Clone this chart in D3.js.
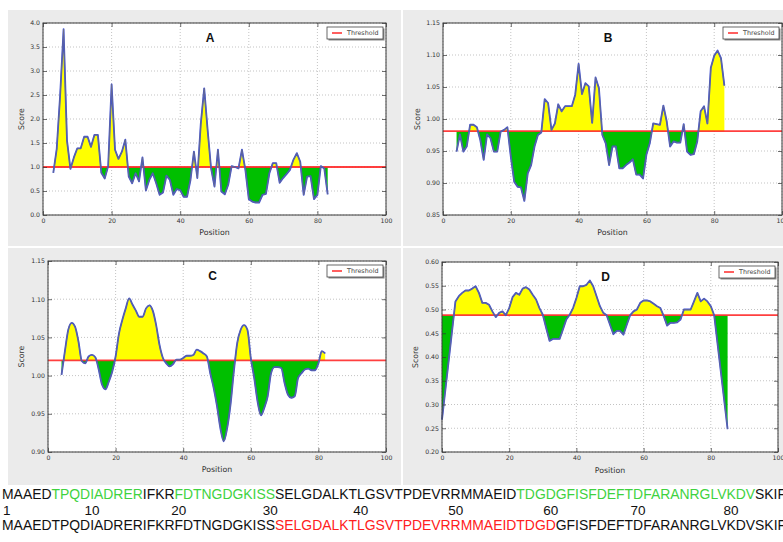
<!DOCTYPE html>
<html><head><meta charset="utf-8">
<script src="https://cdn.jsdelivr.net/npm/d3@7"></script>
<style>
body{margin:0;background:#fff;}
svg{display:block;}
</style></head>
<body>
<svg id="chart" width="783" height="542"></svg>
<script>
// ---------- DATA ----------
const xTickLabels = [0, 20, 40, 60, 80, 100];
const yTicksA = [0.0, 0.5, 1.0, 1.5, 2.0, 2.5, 3.0, 3.5, 4.0];
const yTicksB = [0.85, 0.90, 0.95, 1.00, 1.05, 1.10, 1.15];
const yTicksC = [0.90, 0.95, 1.00, 1.05, 1.10, 1.15];
const yTicksD = [0.20, 0.25, 0.30, 0.35, 0.40, 0.45, 0.50, 0.55, 0.60];

const thresholds = {A: 1.0, B: 0.981, C: 1.02, D: 0.488};

const posA = d3.range(3, 84);
const scoreA = [0.88,1.38,2.5,3.87,1.55,0.96,1.2,1.39,1.39,1.63,
  1.63,1.42,1.67,1.67,0.88,0.76,1.02,2.72,1.36,1.17,
  1.32,1.57,0.8,0.66,0.87,0.70,1.2,0.51,0.73,0.87,
  0.66,0.42,0.47,0.82,0.73,0.42,0.54,0.52,0.38,0.38,
  0.73,1.32,0.77,1.9,2.64,1.77,0.97,0.59,1.36,0.49,
  0.43,0.63,1.02,1.0,0.97,1.36,0.94,0.33,0.28,0.26,
  0.26,0.42,0.44,0.87,1.08,1.08,0.67,0.77,0.85,0.94,
  1.15,1.29,1.11,0.42,0.80,0.81,0.33,0.42,1.02,0.97,0.43];

const posB = d3.range(4, 84);
const scoreB = [0.949,0.976,0.949,0.957,0.991,0.991,0.987,0.967,0.936,0.976,
  0.970,0.949,0.949,0.980,0.983,0.987,0.941,0.902,0.894,0.893,
  0.872,0.915,0.928,0.957,0.975,0.979,1.031,1.025,0.983,0.993,
  1.023,1.012,1.020,1.020,1.020,1.038,1.086,1.039,1.056,1.051,
  0.994,1.065,1.048,0.975,0.962,0.928,0.957,0.957,0.923,0.923,
  0.928,0.932,0.937,0.913,0.913,0.907,0.944,0.962,0.993,0.992,
  0.991,1.021,0.996,0.957,0.965,0.963,0.963,0.992,0.949,0.944,
  0.945,0.965,1.012,1.020,0.993,1.080,1.099,1.107,1.095,1.052];

const posC = d3.range(4, 83);
const scoreC = [1.001,1.032,1.060,1.069,1.064,1.045,1.019,1.016,1.025,1.027,
  1.024,1.008,0.988,0.982,0.992,1.005,1.025,1.055,1.073,1.088,
  1.101,1.093,1.085,1.077,1.077,1.088,1.092,1.085,1.066,1.040,
  1.023,1.016,1.012,1.015,1.021,1.021,1.023,1.026,1.026,1.027,
  1.034,1.032,1.029,1.025,1.003,0.984,0.960,0.931,0.914,0.931,
  0.962,1.006,1.043,1.060,1.066,1.060,1.023,0.997,0.966,0.948,
  0.958,0.973,1.003,1.011,1.011,1.010,0.990,0.975,0.971,0.973,
  0.997,1.003,1.008,1.009,1.007,1.007,1.016,1.032,1.029];

const posD = [0].concat(d3.range(4, 82), [85]);
const scoreD = [0.268,
  0.517,0.528,0.535,0.540,0.540,0.544,0.549,0.535,0.514,0.514,
  0.510,0.496,0.484,0.493,0.496,0.488,0.503,0.526,0.535,0.531,
  0.544,0.547,0.542,0.531,0.521,0.503,0.489,0.461,0.434,0.438,
  0.438,0.438,0.458,0.479,0.489,0.503,0.524,0.549,0.549,0.552,
  0.561,0.549,0.528,0.507,0.493,0.488,0.468,0.448,0.455,0.455,
  0.447,0.468,0.488,0.496,0.500,0.514,0.519,0.519,0.517,0.512,
  0.507,0.503,0.486,0.466,0.472,0.472,0.473,0.479,0.500,0.500,
  0.500,0.517,0.535,0.517,0.523,0.517,0.507,0.488,
  0.248];

const seqLine1 = [
  ["MAAED","k"],["TPQDIADRER","g"],["IFKR","k"],["FDTNGDGKISS","g"],
  ["SELGDALKTLGSVTPDEVRRMMAEID","k"],["TDGDGFISFDEFTDFARANRGLVKDV","g"],["SKIF","k"]];
const seqLine3 = [
  ["MAAEDTPQDIADRERIFKRFDTNGDGKISS","k"],["SELGDALKTLGSVTPDEVRRMMAEIDTDGD","r"],
  ["GFISFDEFTDFARANRGLVKDVSKIF","k"]];
const seqNumbers = [1, 10, 20, 30, 40, 50, 60, 70, 80];

// ---------- LAYOUT ----------
const panels = [
  {id:"A", pos:posA, score:scoreA, yTicks:yTicksA, fmt:".1f",
   bg:[8,10,393,236], left:43, right:386, top:23, bottom:215, scoreX:21, posY:232, curve:d3.curveLinear},
  {id:"B", pos:posB, score:scoreB, yTicks:yTicksB, fmt:".2f",
   bg:[403,10,380,236], left:443, right:782, top:23, bottom:215, scoreX:417, posY:232, curve:d3.curveLinear},
  {id:"C", pos:posC, score:scoreC, yTicks:yTicksC, fmt:".2f",
   bg:[8,248,393,237], left:48, right:386, top:261, bottom:452, scoreX:21, posY:469, curve:d3.curveMonotoneX},
  {id:"D", pos:posD, score:scoreD, yTicks:yTicksD, fmt:".2f",
   bg:[403,248,380,237], left:442, right:778, top:262, bottom:452, scoreX:415, posY:470, curve:d3.curveLinear}
];

const svg = d3.select("#chart");
const tickFont = "DejaVu Sans, sans-serif";

panels.forEach(p => {
  const thr = thresholds[p.id];
  const data = p.pos.map((d, i) => ({p: d, s: p.score[i]}));
  const x = d3.scaleLinear().domain([0, 100]).range([p.left, p.right]);
  const y = d3.scaleLinear().domain([p.yTicks[0], p.yTicks[p.yTicks.length - 1]]).range([p.bottom, p.top]);
  const g = svg.append("g");
  g.append("rect").attr("x", p.bg[0]).attr("y", p.bg[1]).attr("width", p.bg[2]).attr("height", p.bg[3]).attr("fill", "#ebebeb");
  g.append("rect").attr("x", p.left).attr("y", p.top).attr("width", p.right - p.left).attr("height", p.bottom - p.top).attr("fill", "#fff");

  const grid = g.append("g").attr("stroke", "#9a9a9a").attr("stroke-width", 0.6).attr("stroke-dasharray", "1,2");
  xTickLabels.forEach(t => grid.append("line").attr("x1", x(t)).attr("x2", x(t)).attr("y1", p.top).attr("y2", p.bottom));
  p.yTicks.forEach(t => grid.append("line").attr("x1", p.left).attr("x2", p.right).attr("y1", y(t)).attr("y2", y(t)));

  const defs = svg.append("defs");
  defs.append("clipPath").attr("id", "above" + p.id).append("rect")
    .attr("x", p.left).attr("y", p.top).attr("width", p.right - p.left).attr("height", y(thr) - p.top);
  defs.append("clipPath").attr("id", "below" + p.id).append("rect")
    .attr("x", p.left).attr("y", y(thr)).attr("width", p.right - p.left).attr("height", p.bottom - y(thr));

  const area = d3.area().x(d => x(d.p)).y0(y(thr)).y1(d => y(d.s)).curve(p.curve);
  g.append("path").datum(data).attr("d", area).attr("fill", "#ffff00").attr("clip-path", `url(#above${p.id})`);
  g.append("path").datum(data).attr("d", area).attr("fill", "#00bf00").attr("clip-path", `url(#below${p.id})`);

  g.append("line").attr("x1", p.left).attr("x2", p.right).attr("y1", y(thr)).attr("y2", y(thr))
    .attr("stroke", "#ff2a2a").attr("stroke-width", 1.8).attr("stroke-opacity", 0.9);

  const line = d3.line().x(d => x(d.p)).y(d => y(d.s)).curve(p.curve);
  g.append("path").datum(data).attr("d", line).attr("fill", "none").attr("stroke", "#3d4fd6").attr("stroke-width", 1.8).attr("stroke-linejoin", "round");
  g.append("path").datum(data).attr("d", line).attr("fill", "none").attr("stroke", "#6f7180").attr("stroke-width", 0.9).attr("stroke-linejoin", "round").attr("stroke-opacity", 0.8);

  const fmt = d3.format(p.fmt);
  const ax = [
    g.append("g").attr("transform", `translate(0,${p.bottom})`).call(d3.axisBottom(x).tickValues(xTickLabels).tickSize(-4).tickPadding(4).tickFormat(d3.format("d"))),
    g.append("g").attr("transform", `translate(0,${p.top})`).call(d3.axisTop(x).tickValues(xTickLabels).tickSize(-4).tickFormat("")),
    g.append("g").attr("transform", `translate(${p.left},0)`).call(d3.axisLeft(y).tickValues(p.yTicks).tickSize(-4).tickPadding(3).tickFormat(fmt)),
    g.append("g").attr("transform", `translate(${p.right},0)`).call(d3.axisRight(y).tickValues(p.yTicks).tickSize(-4).tickFormat(""))
  ];
  ax.forEach(a => {
    a.select(".domain").remove();
    a.selectAll("line").attr("stroke", "#333").attr("stroke-width", 0.7);
    a.selectAll("text").attr("font-family", tickFont).attr("font-size", 6.2).attr("fill", "#333");
  });

  g.append("rect").attr("x", p.left).attr("y", p.top).attr("width", p.right - p.left).attr("height", p.bottom - p.top)
    .attr("fill", "none").attr("stroke", "#3a3a3a").attr("stroke-width", 1);

  g.append("text").attr("x", x(48.7)).attr("y", p.top + 19).attr("text-anchor", "middle")
    .attr("font-family", "Liberation Sans, Arial, sans-serif").attr("font-weight", "bold").attr("font-size", 12).attr("fill", "#111").text(p.id);

  const lw = 56, lh = 12, lx = p.right - 3 - lw, ly = p.top + 4;
  g.append("rect").attr("x", lx + 1.5).attr("y", ly + 1.5).attr("width", lw).attr("height", lh).attr("fill", "#8a8a8a");
  g.append("rect").attr("x", lx).attr("y", ly).attr("width", lw).attr("height", lh).attr("fill", "#fff").attr("stroke", "#444").attr("stroke-width", 0.8);
  g.append("line").attr("x1", lx + 5).attr("x2", lx + 15).attr("y1", ly + lh / 2).attr("y2", ly + lh / 2).attr("stroke", "#ff2a2a").attr("stroke-width", 1.5);
  g.append("text").attr("x", lx + 20).attr("y", ly + lh / 2 + 2.3).attr("font-family", tickFont).attr("font-size", 6.4).attr("fill", "#444").text("Threshold");

  g.append("text").attr("transform", `translate(${p.scoreX},${(p.top + p.bottom) / 2}) rotate(-90)`).attr("text-anchor", "middle")
    .attr("dy", "0.35em").attr("font-family", tickFont).attr("font-size", 7.8).attr("fill", "#333").text("Score");
  g.append("text").attr("x", (p.left + p.right) / 2).attr("y", p.posY).attr("text-anchor", "middle").attr("dy", "0.35em")
    .attr("font-family", tickFont).attr("font-size", 7.8).attr("fill", "#333").text("Position");
});

// ---------- sequences ----------
const colors = {k: "#111", g: "#3fd23f", r: "#ff2020"};
const seqFont = "Liberation Sans Narrow, Liberation Sans, Arial, sans-serif";
function seqText(parts, yBase) {
  const t = svg.append("text").attr("x", 2).attr("y", yBase).attr("font-family", seqFont).attr("font-size", 14)
    .attr("textLength", 784).attr("lengthAdjust", "spacingAndGlyphs");
  t.selectAll("tspan").data(parts).join("tspan").attr("fill", d => colors[d[1]]).text(d => d[0]);
  return t;
}
seqText(seqLine1, 499);
const t3 = seqText(seqLine3, 530);
const node = t3.node();
seqNumbers.forEach(n => {
  let cx;
  try {
    const s = node.getStartPositionOfChar(n - 1).x, e = node.getEndPositionOfChar(n - 1).x;
    cx = (s + e) / 2;
  } catch (err) { cx = 2 + (n - 0.5) * 784 / 86; }
  svg.append("text").attr("x", n === 1 ? 3 : cx).attr("y", 515).attr("text-anchor", n === 1 ? "start" : "middle")
    .attr("font-family", seqFont).attr("font-size", 13.5).attr("fill", "#111").text(n);
});
</script>
</body></html>
